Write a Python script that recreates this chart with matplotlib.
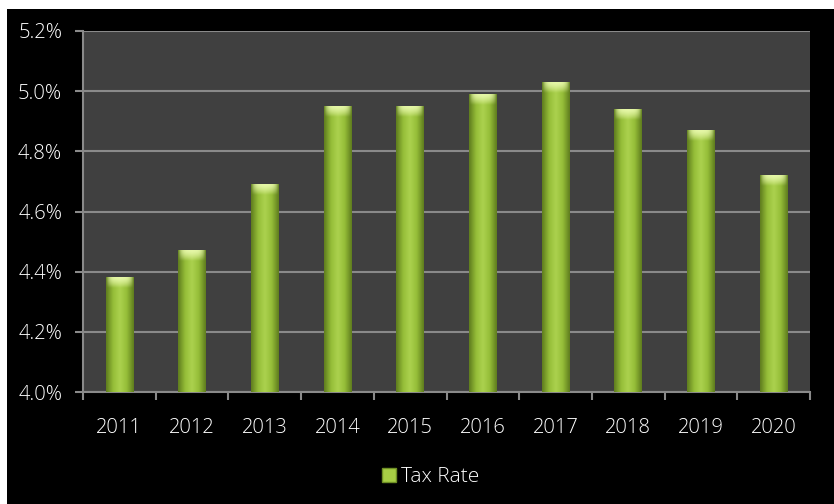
import numpy as np
import matplotlib.pyplot as plt
from matplotlib.colors import LinearSegmentedColormap
from matplotlib.patches import Rectangle
from matplotlib.lines import Line2D

years = ['2011', '2012', '2013', '2014', '2015', '2016', '2017', '2018', '2019', '2020']
tax_rate = [4.38, 4.47, 4.69, 4.95, 4.95, 4.99, 5.03, 4.94, 4.87, 4.72]
series_name = 'Tax Rate'

plt.rcParams['font.family'] = ['Open Sans', 'DejaVu Sans']

fig = plt.figure(figsize=(8.34, 5.04), dpi=100, facecolor='white')
# black chart area (thin white strip at top and left like the original)
fig.patches.append(Rectangle((7 / 834, 0), 1, (504 - 9) / 504, transform=fig.transFigure,
                             facecolor='black', edgecolor='none', zorder=-10))

ax = fig.add_axes([83 / 834, 1 - 392 / 504, (810 - 83) / 834, (392 - 31) / 504])
ax.set_facecolor('#404040')

# bar shading: dark edges, bright middle
body_cmap = LinearSegmentedColormap.from_list('body', ['#5f7d1e', '#95bd38', '#acd24f', '#95bd38', '#5f7d1e'])
grad = np.linspace(0, 1, 64).reshape(1, -1)

# top highlight: light yellow-green, fading downwards and to the sides
u = np.linspace(-1, 1, 64)
w = np.linspace(0, 1, 24)[:, None]
cap = np.zeros((24, 64, 4))
cap[..., 0] = 0.93
cap[..., 1] = 0.99
cap[..., 2] = 0.70
cap[..., 3] = np.clip((1 - u ** 4)[None, :] * (1 - w ** 1.5), 0, 1) * 0.9

ymin, ymax = 4.0, 5.2
bw = 0.38
x = np.arange(len(years))
for xi, v in zip(x, tax_rate):
    ax.imshow(grad, cmap=body_cmap, aspect='auto', extent=[xi - bw / 2, xi + bw / 2, ymin, v],
              zorder=3, interpolation='bicubic')
    ax.imshow(cap, aspect='auto', extent=[xi - bw / 2, xi + bw / 2, v - 0.035, v],
              zorder=4, interpolation='bicubic')

ax.set_xlim(-0.5, len(years) - 0.5)
ax.set_ylim(ymin, ymax)

yt = np.arange(4.0, 5.21, 0.2)
ax.set_yticks(yt)
ax.set_yticklabels([f'{t:.1f}%' for t in yt])
ax.yaxis.grid(True, color='#8a8a8a', linewidth=1.5)
ax.set_axisbelow(True)

ax.set_xticks(x)
ax.set_xticklabels(years)
ax.set_xticks(np.arange(-0.5, len(years)), minor=True)
ax.tick_params(axis='x', which='major', length=0, pad=19, labelsize=14.5, colors='white')
ax.tick_params(axis='x', which='minor', length=6, width=1.5, color='#8a8a8a', direction='out')
ax.tick_params(axis='y', length=6, width=1.5, color='#8a8a8a', pad=9, labelsize=14.5, labelcolor='white')
for lbl in ax.get_xticklabels() + ax.get_yticklabels():
    lbl.set_fontweight('light')

for side in ['top', 'right']:
    ax.spines[side].set_visible(False)
ax.spines['left'].set_color('#8a8a8a')
ax.spines['bottom'].set_color('#8a8a8a')
ax.spines['left'].set_linewidth(1.5)
ax.spines['bottom'].set_linewidth(1.5)

handle = Line2D([], [], marker='s', linestyle='none', markersize=10,
                markerfacecolor='#a8cf45', markeredgecolor='#6f8f25')
leg = fig.legend([handle], [series_name], loc='center', bbox_to_anchor=(430 / 834, 1 - 477 / 504),
                 frameon=False, fontsize=15, handlelength=0.8, handletextpad=0.2, borderaxespad=0)
for t in leg.get_texts():
    t.set_color('white')
    t.set_fontweight('light')

fig.savefig('out.png', dpi=100, facecolor=fig.get_facecolor())
